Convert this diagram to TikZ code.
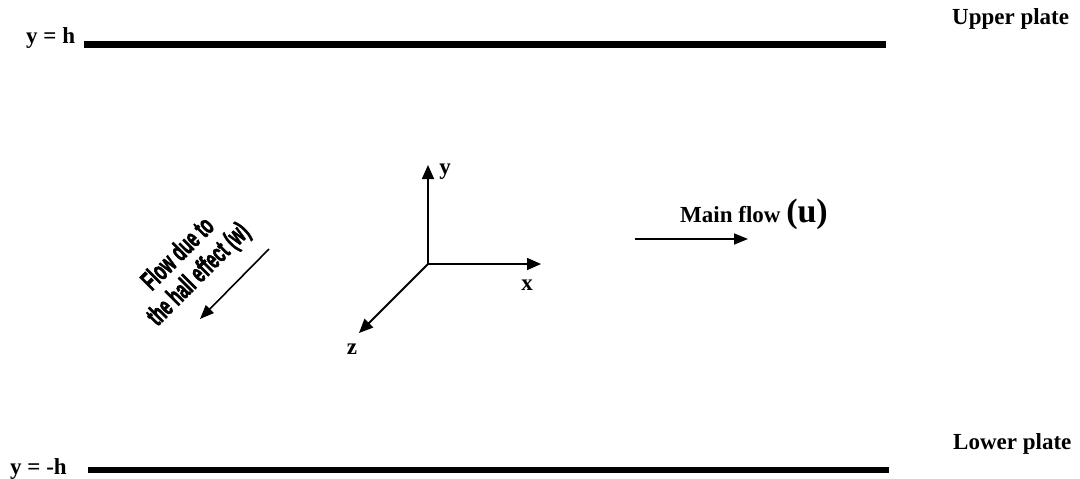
\documentclass[tikz,border=0pt]{standalone}
\usepackage{fontspec}
\setmainfont{Liberation Serif}
\newfontfamily\flowfont[BoldFeatures={FakeBold=2.5}]{Liberation Sans}
\usetikzlibrary{arrows.meta}
\begin{document}
\begin{tikzpicture}[x=1pt,y=-1pt,
  lbl/.style={font=\fontsize{23}{26}\selectfont\bfseries, inner sep=0pt},
  plate/.style={line width=6.5pt},
  axis/.style={line width=1.8pt, -{Triangle[length=14pt,width=12pt]}},
  flowarrow/.style={line width=1.6pt, -{Triangle[length=14pt,width=11pt]}}]
\useasboundingbox (0,0) rectangle (1080,479);
% plates
\coordinate (ua) at (84,44.5);
\coordinate (ub) at (886,44.5);
\coordinate (la) at (88,470);
\coordinate (lb) at (889,470);
\draw[plate] (ua) -- (ub);
\draw[plate] (la) -- (lb);
\node[lbl, anchor=base west] (yh) at (26,43) {y = h};
\node[lbl, anchor=base west] (ymh) at (10,474) {y = -h};
\node[lbl, anchor=base west] (up) at (952,24) {Upper plate};
\node[lbl, anchor=base west] (lp) at (953,449) {Lower plate};
% axes
\coordinate (o) at (428,264);
\coordinate (ytip) at (428,165);
\coordinate (xtip) at (541,264);
\coordinate (ztip) at (359,333);
\draw[axis] (o) -- (ytip);
\draw[axis] (o) -- (xtip);
\draw[axis] (o) -- (ztip);
\node[lbl] (ylab) at (445,172) {y};
\node[lbl] (xlab) at (527,285) {x};
\node[lbl] (zlab) at (352,349) {z};
% main flow
\coordinate (ma) at (635,239);
\coordinate (mb) at (748,239);
\draw[flowarrow] (ma) -- (mb);
\node[lbl, anchor=base west] (mf) at (680,222) {Main flow\ \fontsize{34}{36}\selectfont(u)};
% hall flow
\coordinate (ha) at (269,249);
\coordinate (hb) at (200,319);
\draw[flowarrow] (ha) -- (hb);
\node[rotate=45, align=center, inner sep=0pt, font=\flowfont\bfseries\fontsize{27}{29}\selectfont] (hf) at (189,265)
  {\scalebox{0.6}[1]{Flow due to}\\\scalebox{0.6}[1]{the hall effect (w)}};
\end{tikzpicture}
\end{document}
